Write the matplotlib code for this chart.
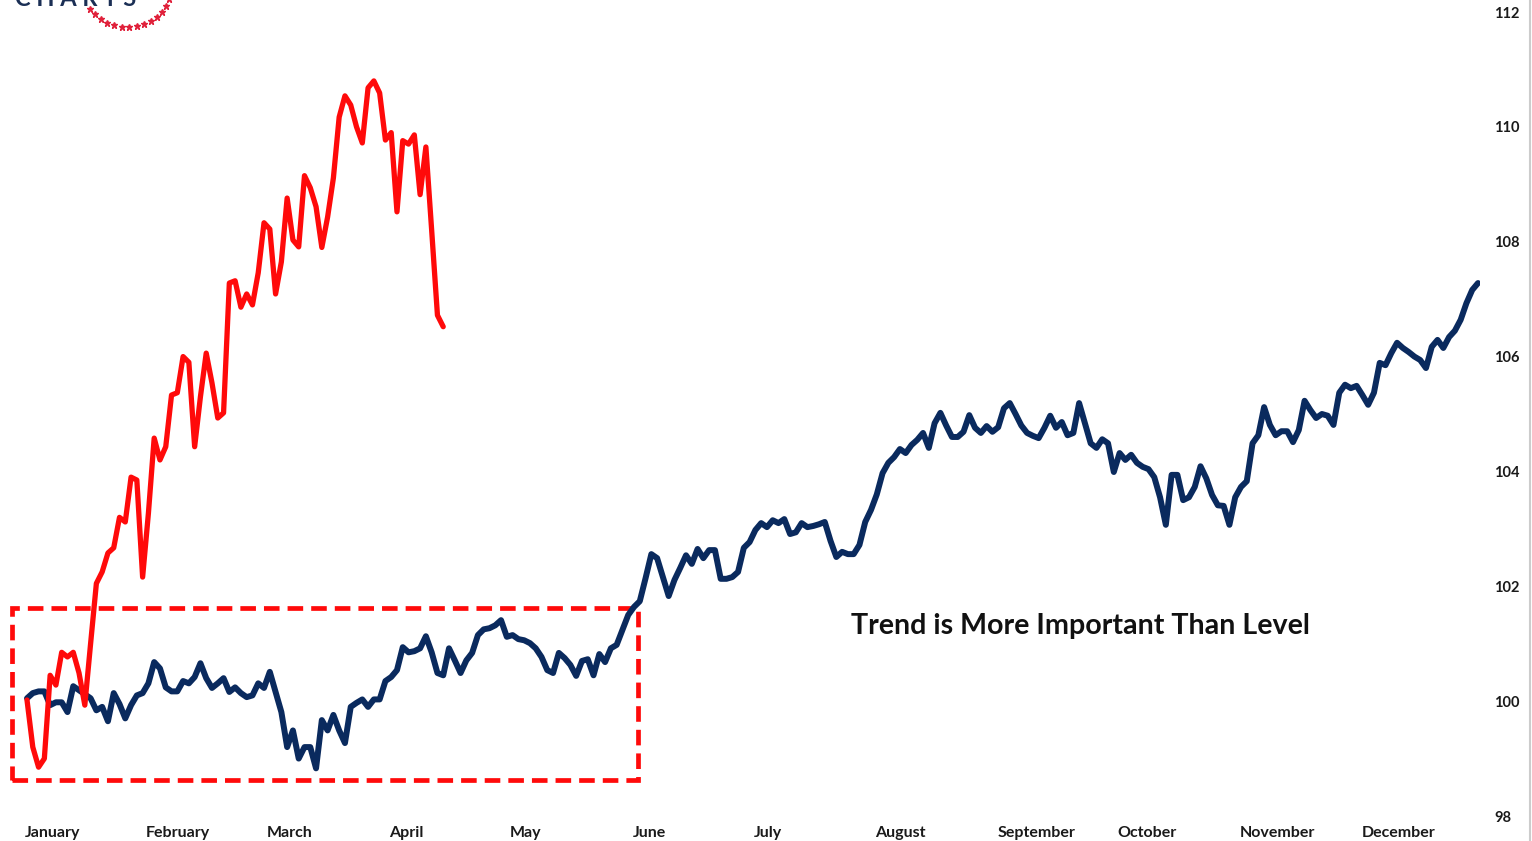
import numpy as np
import matplotlib
matplotlib.use("Agg")
import matplotlib.pyplot as plt
from matplotlib.patches import Rectangle
from matplotlib.lines import Line2D

# values (one point per trading day)
blue_vals = [
    100.05, 100.14, 100.17, 100.17, 99.93, 99.98, 99.98, 99.81, 100.26, 100.19,
    100.12, 100.05, 99.84, 99.9, 99.65, 100.14, 99.95, 99.7, 99.93, 100.1,
    100.14, 100.31, 100.68, 100.57, 100.24, 100.17, 100.17, 100.35, 100.31, 100.42,
    100.66, 100.4, 100.23, 100.31, 100.4, 100.16, 100.24, 100.14, 100.07, 100.1,
    100.31, 100.23, 100.51, 100.16, 99.81, 99.2, 99.49, 99.0, 99.2, 99.2,
    98.83, 99.67, 99.49, 99.76, 99.49, 99.27, 99.9, 99.97, 100.03, 99.9,
    100.03, 100.03, 100.35, 100.42, 100.54, 100.94, 100.85, 100.87, 100.92, 101.13,
    100.85, 100.49, 100.45, 100.92, 100.71, 100.49, 100.71, 100.84, 101.15, 101.25,
    101.27, 101.32, 101.41, 101.12, 101.15, 101.08, 101.06, 101.01, 100.92, 100.77,
    100.54, 100.49, 100.84, 100.75, 100.63, 100.44, 100.7, 100.73, 100.45, 100.82,
    100.68, 100.92, 100.98, 101.24, 101.5, 101.64, 101.74, 102.14, 102.56, 102.49,
    102.16, 101.83, 102.11, 102.32, 102.54, 102.39, 102.65, 102.49, 102.63, 102.63,
    102.13, 102.13, 102.16, 102.25, 102.67, 102.77, 102.98, 103.1, 103.03, 103.15,
    103.1, 103.17, 102.91, 102.94, 103.1, 103.03, 103.05, 103.08, 103.12, 102.79,
    102.51, 102.6, 102.56, 102.56, 102.72, 103.12, 103.33, 103.6, 103.97, 104.15,
    104.25, 104.39, 104.32, 104.46, 104.55, 104.67, 104.41, 104.84, 105.02, 104.8,
    104.6, 104.6, 104.69, 104.98, 104.76, 104.67, 104.79, 104.69, 104.77, 105.1,
    105.19, 105.0, 104.8, 104.67, 104.62, 104.58, 104.76, 104.97, 104.76, 104.86,
    104.63, 104.67, 105.19, 104.84, 104.49, 104.41, 104.56, 104.49, 103.99, 104.32,
    104.2, 104.29, 104.15, 104.08, 104.04, 103.9, 103.55, 103.07, 103.94, 103.94,
    103.5, 103.55, 103.73, 104.09, 103.88, 103.59, 103.41, 103.4, 103.07, 103.55,
    103.73, 103.83, 104.49, 104.63, 105.12, 104.81, 104.63, 104.7, 104.7, 104.51,
    104.72, 105.23, 105.07, 104.93, 105.0, 104.97, 104.81, 105.37, 105.51, 105.45,
    105.49, 105.33, 105.16, 105.37, 105.89, 105.85, 106.06, 106.24, 106.15, 106.08,
    106.0, 105.94, 105.8, 106.17, 106.29, 106.15, 106.34, 106.45, 106.64, 106.93,
    107.16, 107.28,
]

red_vals = [
    100.02, 99.2, 98.85, 99.0, 100.45, 100.28, 100.85, 100.77, 100.85, 100.49,
    99.93, 101.0, 102.05, 102.25, 102.58, 102.67, 103.2, 103.12, 103.9, 103.85,
    102.16, 103.27, 104.58, 104.2, 104.43, 105.33, 105.37, 106.0, 105.9, 104.43,
    105.3, 106.06, 105.54, 104.93, 105.02, 107.28, 107.32, 106.86, 107.09, 106.9,
    107.46, 108.33, 108.22, 107.09, 107.65, 108.76, 108.03, 107.91, 109.15, 108.94,
    108.61, 107.9, 108.43, 109.11, 110.17, 110.54, 110.38, 110.0, 109.72, 110.68,
    110.8, 110.59, 109.77, 109.9, 108.52, 109.76, 109.7, 109.86, 108.82, 109.65,
    108.2, 106.72, 106.52,
]

months = ["January", "February", "March", "April", "May", "June", "July",
          "August", "September", "October", "November", "December"]
month_days = [4.5, 26.1, 45.5, 65.6, 86.2, 107.6, 128.2, 151.0, 174.7, 193.8, 216.3, 237.2]
y_ticks = [98, 100, 102, 104, 106, 108, 110, 112]

note = "Trend is More Important Than Level"
box_x = (-2.6, 105.7)
box_y = (98.62, 101.62)

NAVY = "#0a2a5e"
RED = "#ff0a0a"

fig = plt.figure(figsize=(15.32, 8.41), dpi=100)
ax = fig.add_axes([0.0, 25 / 841, 1480 / 1532, 804 / 841])

ax.add_patch(Rectangle((box_x[0], box_y[0]), box_x[1] - box_x[0], box_y[1] - box_y[0],
                       fill=False, edgecolor=RED, lw=3.4, ls=(0, (3.3, 1.7)), zorder=1))
ax.plot(np.arange(len(blue_vals)), blue_vals, color=NAVY, lw=4.3,
        solid_joinstyle="round", solid_capstyle="round", zorder=2)
ax.plot(np.arange(len(red_vals)), red_vals, color=RED, lw=3.8,
        solid_joinstyle="round", solid_capstyle="round", zorder=3)

ax.text(142.5, 101.3, note, fontsize=20.6, fontfamily="Lato", fontweight="bold",
        color="#111111", va="center", ha="left")

ax.set_xlim(-27 / 5.78, 251 + 2 / 5.78)
ax.set_ylim(98, 112)

ax.set_xticks(month_days)
ax.set_xticklabels(months, fontfamily="Lato", fontweight="bold", fontsize=11.5, color="#1a1a1a")
ax.yaxis.tick_right()
ax.set_yticks(y_ticks)
ax.set_yticklabels([str(v) for v in y_ticks], fontfamily="Lato", fontweight="bold",
                   fontsize=10.5, color="#1a1a1a")
ax.tick_params(axis="x", length=0, pad=7)
ax.tick_params(axis="y", length=0, pad=10)
for s in ax.spines.values():
    s.set_visible(False)

# logo fragment at top-left (cut off by the top edge, as in the source)
fig.text(15 / 1532, 1 - 6 / 841, "C H A R T S", fontsize=17, fontfamily="Lato",
         fontweight="bold", color="#1b2f55", va="baseline", ha="left")
a = np.radians(np.linspace(145, 20, 14))
sx = (127 + 45 * np.cos(a)) / 1532
sy = 1 - (-15 + 42 * np.sin(a)) / 841
fig.add_artist(Line2D(sx, sy, ls="none", marker="*", ms=5, color="#e0213b",
                      transform=fig.transFigure))

fig.add_artist(Line2D([1530 / 1532, 1530 / 1532], [0, 1], color="#cccccc", lw=1.5,
                      transform=fig.transFigure))

fig.savefig("out.png", dpi=100, facecolor="white")
